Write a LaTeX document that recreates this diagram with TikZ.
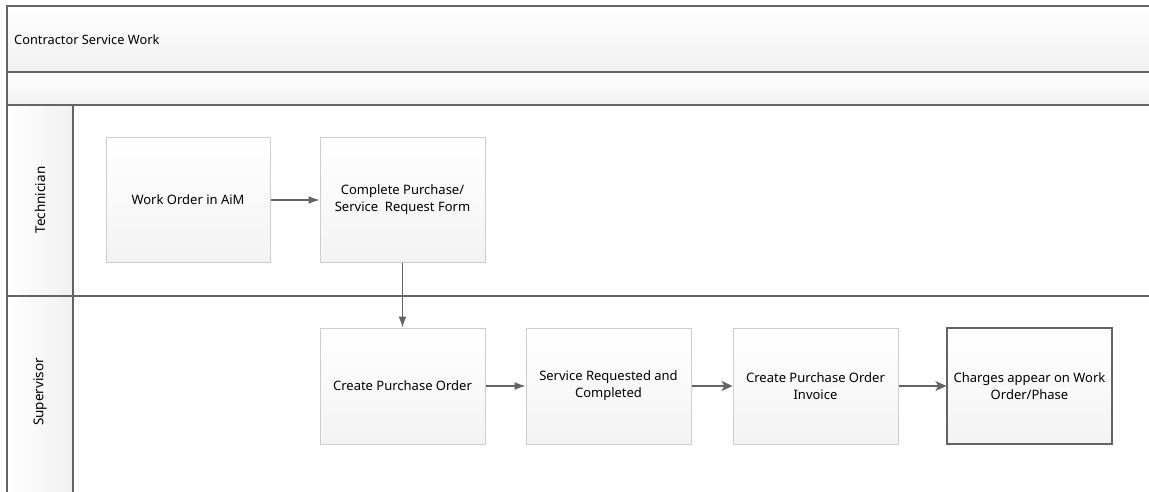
\documentclass[tikz,border=0pt]{standalone}
\usepackage{fontspec}
\setmainfont{Noto Sans}
\usetikzlibrary{arrows.meta}
\definecolor{frameline}{RGB}{100,100,100}
\definecolor{boxline}{RGB}{205,205,205}
\definecolor{boxbot}{RGB}{243,243,243}
\definecolor{bandbot}{RGB}{240,240,240}
\tikzset{
  frame/.style={draw=frameline, line width=1.2pt},
  procbox/.style={draw=boxline, line width=1pt, top color=white, bottom color=boxbot,
    minimum width=165pt, minimum height=116pt, align=center, inner sep=2pt,
    font=\fontsize{13}{17}\selectfont},
  endbox/.style={procbox, draw=frameline, line width=1.3pt},
  lanelabel/.style={rotate=90, font=\fontsize{13.5}{15}\selectfont},
  flow/.style={draw=frameline, line width=1.1pt, -{Latex[length=11pt,width=8pt]}},
  flowb/.style={draw=frameline, line width=1.1pt, -{Stealth[length=11pt,width=10pt,inset=3pt]}}
}
\begin{document}
\begin{tikzpicture}[x=1pt,y=-1pt]
\useasboundingbox (0,0) rectangle (1149,492);
% bands
\shade[top color=white, bottom color=bandbot] (7,6) rectangle (1149,72);
\shade[top color=white, bottom color=bandbot] (7,72) rectangle (1149,105);
\shade[left color=white, right color=bandbot] (7,105) rectangle (73,492);
\draw[frame] (7,492) -- (7,6) -- (1149,6);
\draw[frame] (7,72) -- (1149,72);
\draw[frame] (7,105) -- (1149,105);
\draw[frame] (7,296) -- (1149,296);
\draw[frame] (73,105) -- (73,492);
\node[anchor=west, font=\fontsize{12.8}{15}\selectfont, inner sep=0pt] (title) at (14,40) {Contractor Service Work};
\node[lanelabel] (tech) at (40,200) {Technician};
\node[lanelabel] (sup) at (40,392) {Supervisor};
% boxes
\node[procbox, minimum width=164pt, minimum height=124pt] (wo) at (188,200) {Work Order in AiM};
\node[procbox, minimum height=124pt] (cp) at (402.5,200) {Complete Purchase/\\Service\ \ Request Form};
\node[procbox] (cpo) at (402.5,386) {Create Purchase Order};
\node[procbox] (sr) at (608.5,386) {Service Requested and\\Completed};
\node[procbox] (ci) at (815.5,386) {Create Purchase Order\\Invoice};
\node[endbox] (ch) at (1029.5,386) {Charges appear on Work\\Order/Phase};
% connectors
\draw[flow] (wo) -- (cp);
\draw[flow] (cp) -- (cpo);
\draw[flow] (cpo) -- (sr);
\draw[flowb] (sr) -- (ci);
\draw[flowb] (ci) -- (ch);
\end{tikzpicture}
\end{document}
